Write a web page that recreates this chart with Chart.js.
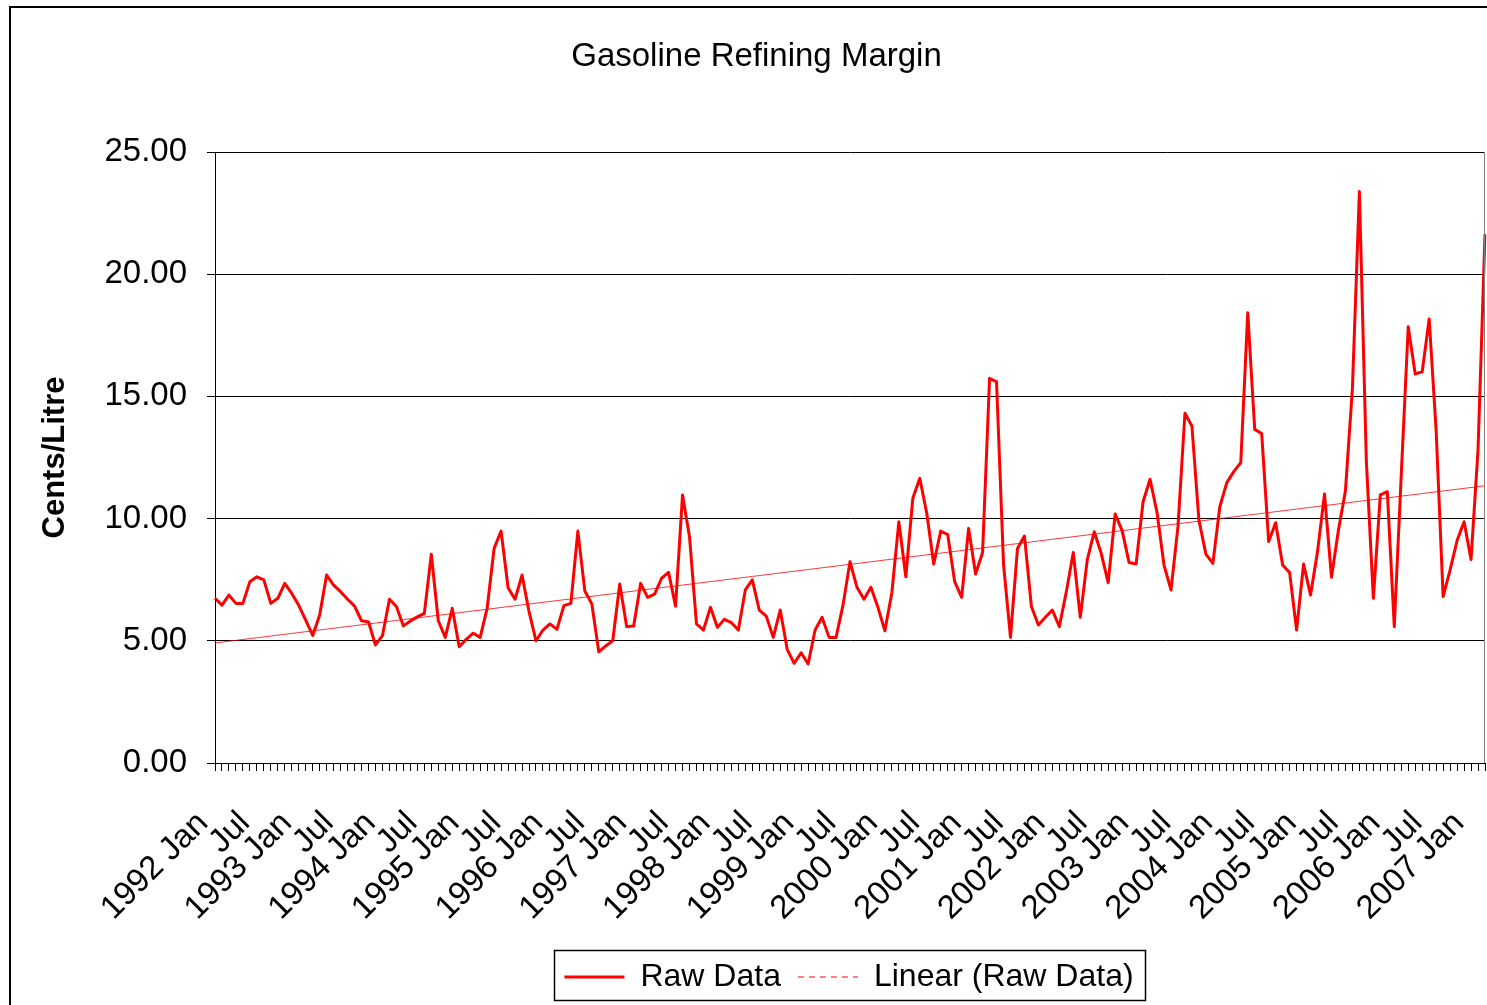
<!DOCTYPE html>
<html>
<head>
<meta charset="utf-8">
<title>Gasoline Refining Margin</title>
<script src="https://cdn.jsdelivr.net/npm/chart.js@4.4.1/dist/chart.umd.min.js"></script>
<style>
  html, body { margin: 0; padding: 0; background: #fff; }
  #wrap { position: relative; width: 1487px; height: 1005px; }
</style>
</head>
<body>
<div id="wrap"><canvas id="marginChart" width="1487" height="1005"></canvas></div>
<script>
const years = [1992, 1993, 1994, 1995, 1996, 1997, 1998, 1999, 2000, 2001, 2002, 2003, 2004, 2005, 2006, 2007];
const monthNames = ["Jan", "Feb", "Mar", "Apr", "May", "Jun", "Jul", "Aug", "Sep", "Oct", "Nov", "Dec"];

// monthly margin, cents per litre
const m1992 = [6.74, 6.46, 6.87, 6.53, 6.53, 7.42, 7.62, 7.49, 6.53, 6.74, 7.35, 6.94];
const m1993 = [6.45, 5.85, 5.22, 6.06, 7.69, 7.28, 7.01, 6.70, 6.42, 5.82, 5.77, 4.83];
const m1994 = [5.21, 6.70, 6.40, 5.61, 5.81, 5.98, 6.12, 8.54, 5.82, 5.14, 6.33, 4.76];
const m1995 = [5.06, 5.31, 5.14, 6.33, 8.78, 9.49, 7.17, 6.70, 7.69, 6.20, 5.00, 5.44];
const m1996 = [5.69, 5.47, 6.44, 6.53, 9.49, 7.04, 6.51, 4.55, 4.79, 5.00, 7.32, 5.58];
const m1997 = [5.61, 7.35, 6.78, 6.91, 7.56, 7.80, 6.42, 10.97, 9.26, 5.69, 5.44, 6.37];
const m1998 = [5.55, 5.88, 5.74, 5.44, 7.08, 7.49, 6.26, 6.01, 5.14, 6.26, 4.65, 4.08];
const m1999 = [4.51, 4.05, 5.44, 5.96, 5.14, 5.14, 6.46, 8.24, 7.19, 6.70, 7.19, 6.37];
const m2000 = [5.41, 6.97, 9.87, 7.62, 10.83, 11.65, 10.22, 8.14, 9.49, 9.35, 7.42, 6.78];
const m2001 = [9.60, 7.73, 8.61, 15.74, 15.60, 8.14, 5.14, 8.78, 9.29, 6.40, 5.65, 5.96];
const m2002 = [6.26, 5.58, 7.01, 8.61, 5.96, 8.31, 9.46, 8.58, 7.38, 10.19, 9.51, 8.20];
const m2003 = [8.14, 10.69, 11.61, 10.25, 8.10, 7.08, 9.67, 14.31, 13.79, 9.94, 8.55, 8.17];
const m2004 = [10.49, 11.47, 11.92, 12.29, 18.42, 13.65, 13.48, 9.06, 9.83, 8.10, 7.79, 5.44];
const m2005 = [8.14, 6.87, 8.65, 11.01, 7.60, 9.53, 11.14, 15.33, 23.38, 12.33, 6.74, 10.97];
const m2006 = [11.10, 5.58, 11.80, 17.85, 15.92, 16.01, 18.17, 13.60, 6.81, 7.90, 9.10, 9.87];
const m2007 = [8.33, 12.81, 21.64];

const rawData = [].concat(m1992, m1993, m1994, m1995, m1996, m1997, m1998, m1999,
    m2000, m2001, m2002, m2003, m2004, m2005, m2006, m2007);

const categories = rawData.map((v, i) => years[Math.floor(i / 12)] + " " + monthNames[i % 12]);
// only Jan (with year) and Jul are written under the axis
const tickLabels = categories.map((c, i) => i % 12 === 0 ? c : (i % 12 === 6 ? "Jul" : ""));

// least squares line, same as the spreadsheet "Linear" trendline
function linearFit(values) {
    const n = values.length;
    let sx = 0, sy = 0, sxx = 0, sxy = 0;
    values.forEach((v, i) => { sx += i; sy += v; sxx += i * i; sxy += i * v; });
    const slope = (n * sxy - sx * sy) / (n * sxx - sx * sx);
    const intercept = (sy - slope * sx) / n;
    return values.map((v, i) => intercept + slope * i);
}
const trendData = linearFit(rawData);

Chart.defaults.font.family = "'Liberation Sans', Arial, sans-serif";
Chart.defaults.color = "#000";

const LEGEND_MID_X = 849;
const LEGEND_MID_Y = 977;
const TITLE_SHIFT_X = 9;
const PLOT_BOTTOM = 763;

const frame = {
    id: "frame",
    afterLayout(chart) {
        // put the legend where the original has it
        const lg = chart.legend;
        if (lg) {
            const dx = LEGEND_MID_X - (lg.left + lg.right) / 2;
            lg.left += dx;
            lg.right += dx;
            const pad = lg.options.labels.padding;
            const size = lg.options.labels.font.size;
            const dy = (LEGEND_MID_Y - size / 2 - pad) - lg.top;
            lg.top += dy;
            lg.bottom += dy;
        }
        const tb = chart.titleBlock;
        if (tb) {
            tb.left += TITLE_SHIFT_X;
            tb.right += TITLE_SHIFT_X;
        }
    },
    beforeDraw(chart) {
        const ctx = chart.ctx;
        ctx.save();
        ctx.strokeStyle = "#000";
        ctx.lineWidth = 2;
        ctx.beginPath();
        ctx.moveTo(10, chart.height);
        ctx.lineTo(10, 7);
        ctx.lineTo(chart.width, 7);
        ctx.stroke();
        ctx.restore();
    },
    afterDraw(chart) {
        const ctx = chart.ctx;
        const area = chart.chartArea;
        ctx.save();
        // plot area right edge
        ctx.strokeStyle = "#808080";
        ctx.lineWidth = 1;
        ctx.beginPath();
        ctx.moveTo(Math.round(area.right) - 0.5, area.top);
        ctx.lineTo(Math.round(area.right) - 0.5, area.bottom);
        ctx.stroke();
        // legend box
        const lg = chart.legend;
        if (lg && lg.lineWidths) {
            const pad = lg.options.labels.padding;
            const span = lg.lineWidths[0] - pad;
            const x0 = (lg.left + lg.right) / 2 - span / 2;
            ctx.strokeStyle = "#000";
            ctx.lineWidth = 1.5;
            ctx.strokeRect(Math.round(x0 - 10) + 0.5, 950.5, Math.round(span + 22), 50);
        }
        ctx.restore();
    }
};

const ctx = document.getElementById("marginChart").getContext("2d");

new Chart(ctx, {
    type: "line",
    data: {
        labels: categories,
        datasets: [
            {
                label: "Raw Data",
                data: rawData,
                borderColor: "#ff0000",
                borderWidth: 3,
                pointRadius: 0,
                tension: 0,
                fill: false,
                borderJoinStyle: "round",
            },
            {
                label: "Linear (Raw Data)",
                data: trendData,
                borderColor: "rgba(255, 0, 0, 0.8)",
                borderWidth: 1,
                pointRadius: 0,
                tension: 0,
                fill: false,
            },
        ],
    },
    options: {
        responsive: false,
        animation: false,
        events: [],
        layout: {
            padding: { left: 10, top: 7, right: 2, bottom: 5 },
        },
        plugins: {
            title: {
                display: true,
                text: "Gasoline Refining Margin",
                font: { size: 33, weight: "normal" },
                color: "#000",
                padding: { top: 30, bottom: 75.4 },
            },
            legend: {
                position: "bottom",
                labels: {
                    usePointStyle: true,
                    pointStyle: "line",
                    pointStyleWidth: 60,
                    font: { size: 32 },
                    color: "#000",
                    padding: 17,
                    generateLabels: (chart) => {
                        const items = Chart.defaults.plugins.legend.labels.generateLabels(chart);
                        if (items[1]) items[1].lineDash = [6, 5];
                        if (items[1]) items[1].strokeStyle = "#ff0000";
                        return items;
                    },
                },
            },
            tooltip: { enabled: false },
        },
        scales: {
            x: {
                ticks: {
                    autoSkip: false,
                    minRotation: 45,
                    maxRotation: 45,
                    font: { size: 33 },
                    color: "#000",
                    padding: 33,
                    labelOffset: -12,
                    callback: (value, index) => tickLabels[index],
                },
                grid: {
                    drawOnChartArea: false,
                    color: "#000",
                    tickLength: 8,
                },
                border: { color: "#000", width: 1 },
                afterFit: (scale) => {
                    scale.paddingLeft = 0;
                    scale.paddingRight = 0;
                    const lg = scale.chart.legend;
                    scale.height = scale.chart.height - 5 - (lg ? lg.height : 0) - PLOT_BOTTOM;
                },
            },
            y: {
                min: 0,
                max: 25,
                ticks: {
                    stepSize: 5,
                    font: { size: 33 },
                    color: "#000",
                    padding: 20,
                    callback: (value) => value.toFixed(2),
                },
                grid: {
                    color: "#000",
                    lineWidth: 1,
                    tickLength: 8,
                },
                border: { color: "#000", width: 1 },
                title: {
                    display: true,
                    text: "Cents/Litre",
                    font: { size: 31, weight: "bold" },
                    color: "#000",
                    padding: { top: 27, bottom: 0 },
                },
                afterFit: (scale) => {
                    scale.width = 205;
                },
            },
        },
    },
    plugins: [frame],
});
</script>
</body>
</html>
